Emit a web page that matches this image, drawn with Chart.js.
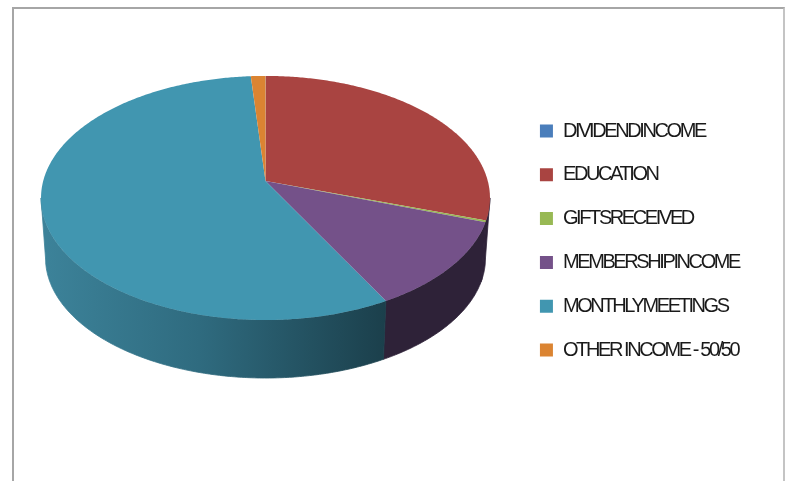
<!DOCTYPE html>
<html>
<head>
<meta charset="utf-8">
<script src="https://cdn.jsdelivr.net/npm/chart.js@4/dist/chart.umd.min.js"></script>
<style>
    html, body { margin: 0; background: #fff; overflow: hidden; }
    #wrap { position: relative; width: 785px; height: 481px; }
    #frame { position: absolute; left: 12px; top: 7px; width: 769px; height: 480px;
             border: 2px solid #a6a6a6; border-right-color: #c4c4c4; border-bottom: none; }
    canvas { position: absolute; left: 0; top: 0; filter: blur(0.4px); }
</style>
</head>
<body>
<div id="wrap">
    <div id="frame"></div>
    <canvas id="pieChart" width="785" height="481"></canvas>
</div>
<script>
const categories = ['DIVIDENDINCOME', 'EDUCATION', 'GIFTSRECEIVED', 'MEMBERSHIPINCOME', 'MONTHLYMEETINGS', 'OTHER INCOME - 50/50'];
const shares = [0.02, 30.1, 0.2, 11.8, 56.68, 1.2];
const faceColors = ['#4a7ebb', '#a94441', '#98b954', '#745189', '#4196b0', '#db8432'];
const wallColors = ['#2a4568', '#2e2238', '#2e2238', '#2e2238', null, '#8a5320'];

// where the tilted disc sits on the page
const hubX = 265.5, hubY = 181, radius = 222.3;
const tiltK = 119.7, tiltP = 0.139;
const ellipseY = 198, ellipseRx = 224.5, ellipseRy = 122;
const lowerY = 258, lowerRx = 220, lowerRy = 120;

// angle measured clockwise from the top of the pie -> point on the top face
function topPoint(a) {
    const u = Math.sin(a), v = -Math.cos(a);
    const w = 1 - tiltP * v;
    return [hubX + radius * u / w, hubY + tiltK * v / w];
}

function lowerPoint(a) {
    const p = topPoint(a);
    return [hubX + lowerRx * (p[0] - hubX) / ellipseRx,
            lowerY + lowerRy * (p[1] - ellipseY) / ellipseRy];
}

function arcPoints(fn, start, end) {
    const pts = [];
    const steps = Math.max(2, Math.ceil((end - start) / 0.01));
    for (let i = 0; i <= steps; i++) {
        pts.push(fn(start + (end - start) * i / steps));
    }
    return pts;
}

function fillPath(ctx, pts, fill, seal) {
    ctx.beginPath();
    pts.forEach((p, i) => i ? ctx.lineTo(p[0], p[1]) : ctx.moveTo(p[0], p[1]));
    ctx.closePath();
    ctx.fillStyle = fill;
    ctx.fill();
    if (seal) {
        // hides the hairline between neighbouring wall pieces
        ctx.strokeStyle = fill;
        ctx.lineWidth = 0.8;
        ctx.stroke();
    }
}

const squeezeLegend = {
    id: 'squeezeLegend',
    beforeLayout(chart) { chart.ctx.letterSpacing = '-2.4px'; },
    beforeDraw(chart) { chart.ctx.letterSpacing = '-2.4px'; }
};

const tiltedPie = {
    id: 'tiltedPie',
    beforeDatasetsDraw(chart) {
        const ctx = chart.ctx;
        const arcs = chart.getDatasetMeta(0).data;
        // the wall only shows between the left and right extremes of the disc
        const frontStart = Math.acos(-tiltP), frontEnd = 2 * Math.PI - frontStart;
        ctx.save();

        const tealWall = ctx.createLinearGradient(46, 0, 387, 0);
        tealWall.addColorStop(0, '#3c8299');
        tealWall.addColorStop(0.45, '#2f6b7f');
        tealWall.addColorStop(1, '#1b3f4b');

        arcs.forEach((arc, i) => {
            const start = Math.max(arc.startAngle + Math.PI / 2, frontStart);
            const end = Math.min(arc.endAngle + Math.PI / 2, frontEnd);
            if (end <= start) return;
            const top = arcPoints(topPoint, start, end);
            const low = arcPoints(lowerPoint, start, end).reverse();
            fillPath(ctx, top.concat(low), wallColors[i] || tealWall, true);
        });

        arcs.forEach((arc, i) => {
            const start = arc.startAngle + Math.PI / 2;
            const end = arc.endAngle + Math.PI / 2;
            const pts = [[hubX, hubY]].concat(arcPoints(topPoint, start, end));
            fillPath(ctx, pts, faceColors[i], false);
        });

        ctx.restore();
        return false;
    }
};

const chart = new Chart(document.getElementById('pieChart').getContext('2d'), {
    type: 'pie',
    data: {
        labels: categories,
        datasets: [{
            data: shares,
            backgroundColor: faceColors,
            borderWidth: 0
        }]
    },
    options: {
        responsive: false,
        animation: false,
        layout: { padding: { right: 36 } },
        plugins: {
            tooltip: { enabled: false },
            legend: {
                position: 'right',
                labels: {
                    boxWidth: 13,
                    boxHeight: 13,
                    padding: 23.8,
                    color: '#1a1a1a',
                    font: { family: '"Liberation Sans"', size: 20 }
                }
            }
        }
    },
    plugins: [squeezeLegend, tiltedPie]
});
</script>
</body>
</html>
